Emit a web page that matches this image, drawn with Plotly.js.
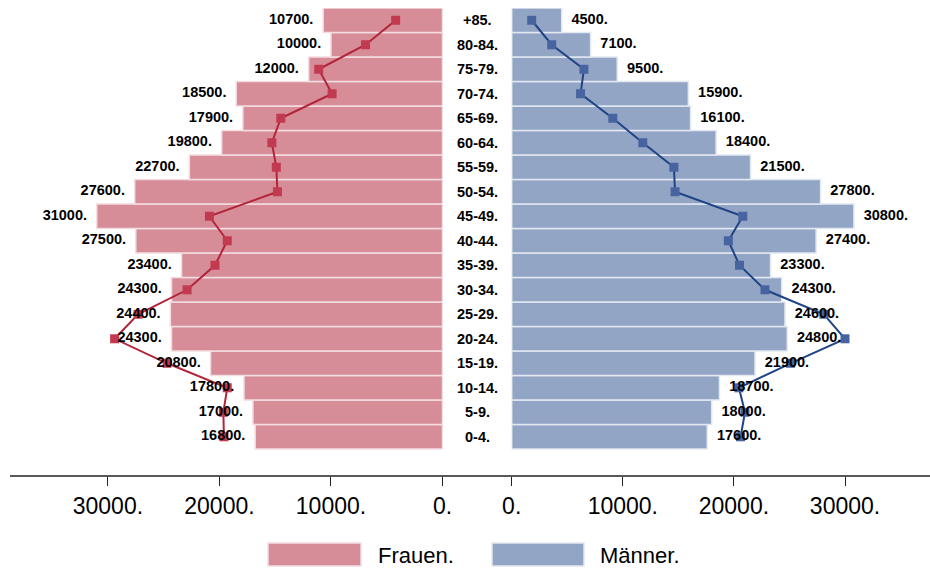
<!DOCTYPE html>
<html>
<head>
<meta charset="utf-8">
<script src="https://cdn.plot.ly/plotly-3.0.1.min.js"></script>
<style>html,body{margin:0;padding:0;background:#fff;}#chart{width:930px;height:569px;}</style>
</head>
<body>
<div id="chart"></div>
<script>
// Age groups, bottom to top
const ages = ['0-4','5-9','10-14','15-19','20-24','25-29','30-34','35-39','40-44','45-49','50-54','55-59','60-64','65-69','70-74','75-79','80-84','+85'];
const frauen = [16800,17000,17800,20800,24300,24400,24300,23400,27500,31000,27600,22700,19800,17900,18500,12000,10000,10700];
const maenner = [17600,18000,18700,21900,24800,24600,24300,23300,27400,30800,27800,21500,18400,16100,15900,9500,7100,4500];
const frauenLine = [19600,19650,19300,24700,29400,27300,22900,20400,19300,20900,14800,14900,15300,14500,9900,11100,6900,4200];
const maennerLine = [20600,21000,20450,25100,30000,28100,22800,20500,19500,20800,14700,14600,11800,9100,6200,6500,3600,1800];
const tickVals = [0,10000,20000,30000];
const tickText = ['0.','10000.','20000.','30000.'];
const legendNames = ['Frauen.','Männer.'];

const pinkFill = '#d68d98', pinkEdge = '#f4dde1';
const blueFill = '#93a5c5', blueEdge = '#e2e8f1';
const redLine = '#b2243a', redMark = '#c23a50';
const navyLine = '#1e4486', navyMark = '#4764a0';

const labelFont = {family:'Liberation Sans, Arial, sans-serif', size:14.5, color:'#000', weight:700};
const hidden = {size:14, color:'rgba(0,0,0,0)'};

const traces = [
  {type:'bar', orientation:'h', x:frauen, y:ages, xaxis:'x', yaxis:'y',
   marker:{color:pinkFill, line:{color:pinkEdge, width:1.5}}, showlegend:false, hoverinfo:'skip'},
  {type:'bar', orientation:'h', x:maenner, y:ages, xaxis:'x2', yaxis:'y2',
   marker:{color:blueFill, line:{color:blueEdge, width:1.5}}, showlegend:false, hoverinfo:'skip'},
  {type:'scatter', mode:'lines+markers', x:frauenLine, y:ages, xaxis:'x', yaxis:'y',
   line:{color:redLine, width:2}, marker:{symbol:'square', size:9, color:redMark}, showlegend:false, cliponaxis:false},
  {type:'scatter', mode:'lines+markers', x:maennerLine, y:ages, xaxis:'x2', yaxis:'y2',
   line:{color:navyLine, width:2}, marker:{symbol:'square', size:9, color:navyMark}, showlegend:false, cliponaxis:false},
  {type:'scatter', mode:'markers+text', x:frauen, y:ages, xaxis:'x', yaxis:'y', marker:hidden,
   text:frauen.map(v=>v+'.'), textposition:'middle left', textfont:labelFont, showlegend:false, cliponaxis:false, hoverinfo:'skip'},
  {type:'scatter', mode:'markers+text', x:maenner, y:ages, xaxis:'x2', yaxis:'y2', marker:hidden,
   text:maenner.map(v=>v+'.'), textposition:'middle right', textfont:labelFont, showlegend:false, cliponaxis:false, hoverinfo:'skip'}
];

const W = 920, H = 468; // plot area size
const px = p => (p-10)/W;
const py = p => (476-p)/H;

const annotations = ages.map((a, i) => ({
  xref:'paper', yref:'y', x:px(478), y:i, text:a+'.', showarrow:false,
  xanchor:'center', yanchor:'middle', font:labelFont
}));
annotations.push(
  {xref:'paper', yref:'paper', x:px(376), y:py(555), text:legendNames[0], showarrow:false, xanchor:'left', yanchor:'middle',
   font:{family:'Liberation Sans, Arial, sans-serif', size:22, color:'#000'}},
  {xref:'paper', yref:'paper', x:px(598), y:py(555), text:legendNames[1], showarrow:false, xanchor:'left', yanchor:'middle',
   font:{family:'Liberation Sans, Arial, sans-serif', size:22, color:'#000'}}
);

const shapes = [
  {type:'line', xref:'paper', yref:'paper', x0:0, x1:1, y0:0, y1:0, line:{color:'#222', width:1.5}},
  {type:'rect', xref:'paper', yref:'paper', x0:px(268), x1:px(361), y0:py(566), y1:py(543), fillcolor:pinkFill, line:{color:pinkEdge, width:1.5}},
  {type:'rect', xref:'paper', yref:'paper', x0:px(492), x1:px(584), y0:py(566), y1:py(543), fillcolor:blueFill, line:{color:blueEdge, width:1.5}}
];

const xCommon = {tickvals:tickVals, ticktext:tickText, ticks:'outside', ticklen:9, tickwidth:1, tickcolor:'#222',
  showline:false, showgrid:false, zeroline:false, fixedrange:true,
  tickfont:{family:'Liberation Sans, Arial, sans-serif', size:23, color:'#000'}};
const yCommon = {type:'category', categoryorder:'array', categoryarray:ages, range:[-1.6,17.5],
  showticklabels:false, showgrid:false, zeroline:false, showline:false, ticks:''};

const layout = {
  width:930, height:569,
  margin:{l:10, r:0, t:8, b:93},
  paper_bgcolor:'#fff', plot_bgcolor:'#fff',
  barmode:'overlay', bargap:0,
  showlegend:false,
  xaxis:Object.assign({}, xCommon, {domain:[0, px(442.5)], range:[38780,0], anchor:'y'}),
  xaxis2:Object.assign({}, xCommon, {domain:[px(511.7),1], range:[0,37650], anchor:'y2'}),
  yaxis:Object.assign({}, yCommon, {anchor:'x'}),
  yaxis2:Object.assign({}, yCommon, {anchor:'x2'}),
  annotations:annotations,
  shapes:shapes
};

Plotly.newPlot('chart', traces, layout, {displayModeBar:false, staticPlot:true});
</script>
</body>
</html>
